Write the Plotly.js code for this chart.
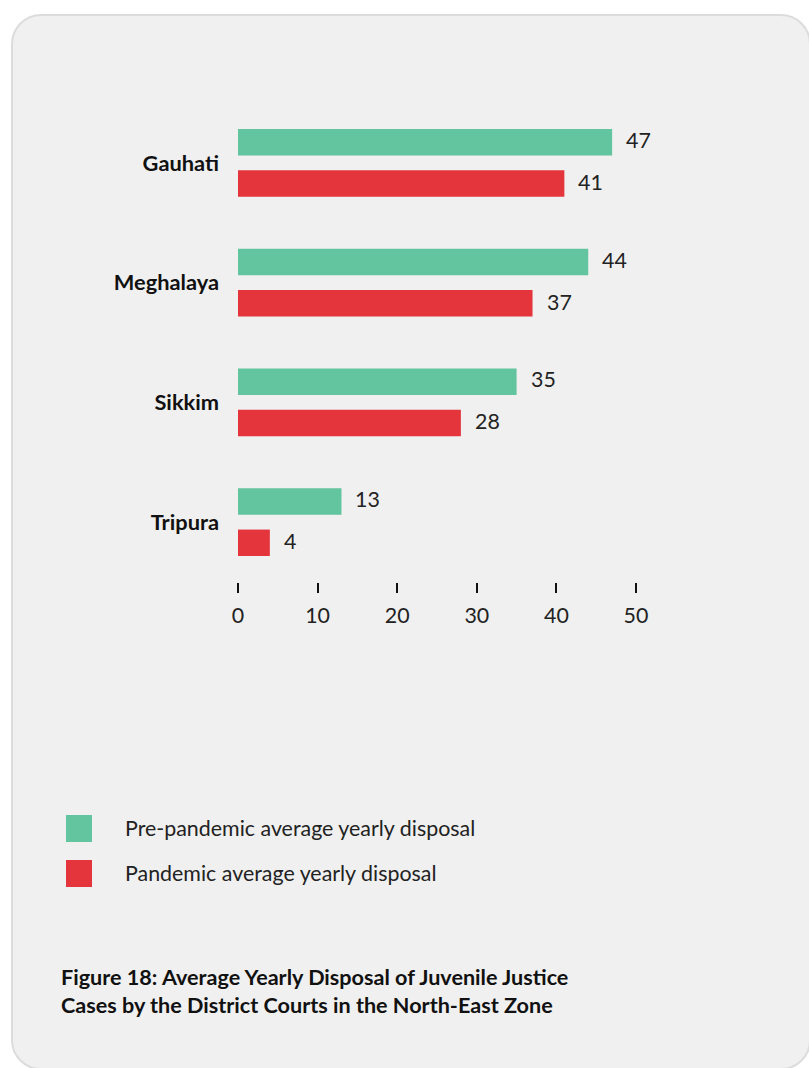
<!DOCTYPE html>
<html>
<head>
<meta charset="utf-8">
<script src="https://cdn.plot.ly/plotly-3.0.1.min.js"></script>
<style>
  html, body { margin: 0; padding: 0; background: #ffffff; width: 809px; height: 1068px; overflow: hidden; }
  #card { position: absolute; left: 11px; top: 14px; width: 800px; height: 1056px; box-sizing: border-box;
          background: #f0f0f0; border: 2px solid #dcdcdc; border-radius: 30px; }
  #chart { position: absolute; left: 0; top: 0; width: 809px; height: 1068px; }
</style>
</head>
<body>
<div id="card"></div>
<div id="chart"></div>
<script>
const categories = ["Gauhati", "Meghalaya", "Sikkim", "Tripura"];
const prePandemic = [47, 44, 35, 13];
const pandemic = [41, 37, 28, 4];
const seriesNames = ["Pre-pandemic average yearly disposal", "Pandemic average yearly disposal"];
const seriesColors = ["#63c4a0", "#e3353b"];
const xTicks = [0, 10, 20, 30, 40, 50];
const captionLines = ["Figure 18: Average Yearly Disposal of Juvenile Justice", "Cases by the District Courts in the North-East Zone"];

const W = 809, H = 1068;
const L = 238, R = 636, T = 103, B = 582;
const px = x => (x - L) / (R - L);
const py = y => (B - y) / (B - T);
const FONT = "Lato, 'Open Sans', sans-serif";
const FS = 21.4;

const traces = [
  { type: "bar", orientation: "h", y: categories, x: prePandemic, name: seriesNames[0],
    marker: { color: seriesColors[0] }, hoverinfo: "skip" },
  { type: "bar", orientation: "h", y: categories, x: pandemic, name: seriesNames[1],
    marker: { color: seriesColors[1] }, hoverinfo: "skip" }
];

const annotations = [];
[prePandemic, pandemic].forEach((vals, si) => {
  vals.forEach((v, i) => {
    annotations.push({ x: v, y: categories[i], xref: "x", yref: "y", text: String(v),
      showarrow: false, xanchor: "left", yanchor: "middle", xshift: 12, yshift: si === 0 ? 23 : -19,
      font: { family: FONT, size: FS, color: "#222222" } });
  });
});

const shapes = [];
seriesNames.forEach((nm, si) => {
  const y0 = 815 + si * 45;
  shapes.push({ type: "rect", xref: "paper", yref: "paper", x0: px(66), x1: px(92), y0: py(y0), y1: py(y0 + 27),
    fillcolor: seriesColors[si], line: { width: 0 } });
  annotations.push({ xref: "paper", yref: "paper", x: px(123), y: py(y0 + 13), text: nm, showarrow: false,
    xanchor: "left", yanchor: "middle", font: { family: FONT, size: FS, color: "#222222" } });
});

annotations.push({ xref: "paper", yref: "paper", x: px(59), y: py(962), xanchor: "left", yanchor: "top", align: "left",
  text: captionLines.map(s => "<b>" + s + "</b>").join("<br>"), showarrow: false,
  font: { family: FONT, size: 21.6, color: "#111111" } });

const layout = {
  width: W, height: H,
  margin: { l: L, r: W - R, t: T, b: H - B, pad: 0 },
  paper_bgcolor: "rgba(0,0,0,0)", plot_bgcolor: "rgba(0,0,0,0)",
  barmode: "group", bargap: 0.31, bargroupgap: 0.36,
  showlegend: false,
  font: { family: FONT, size: FS, color: "#222222" },
  xaxis: { range: [0, 50], tickvals: xTicks, ticktext: xTicks.map(String), ticks: "outside", ticklen: 10, tickwidth: 2,
    tickcolor: "#111111", showgrid: false, zeroline: false, showline: false, fixedrange: true,
    ticklabelstandoff: 4,
    tickfont: { family: FONT, size: FS, color: "#222222" } },
  yaxis: { type: "category", autorange: "reversed", ticks: "", showgrid: false, zeroline: false, showline: false,
    ticklabelstandoff: 18, fixedrange: true,
    tickfont: { family: FONT, size: 21.8, color: "#111111", weight: "bold" } },
  annotations: annotations,
  shapes: shapes
};

Plotly.newPlot("chart", traces, layout, { displayModeBar: false, staticPlot: true });
</script>
</body>
</html>
